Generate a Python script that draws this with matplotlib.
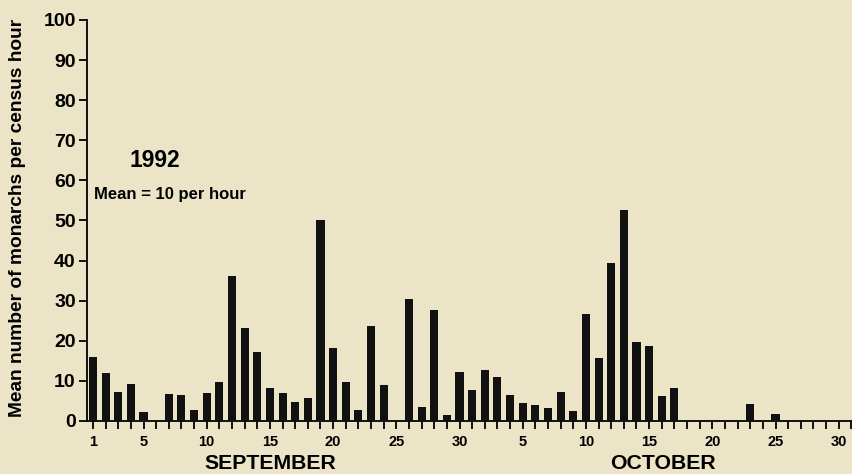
import matplotlib
matplotlib.use('Agg')
import matplotlib.pyplot as plt
import matplotlib.transforms as mtransforms

plt.rcParams['font.family'] = ['Liberation Sans', 'DejaVu Sans']
plt.rcParams['font.weight'] = 'bold'

# September 1..30 then October 1..31
sept_counts = [16, 12, 7.3, 9.3, 2.2, 0, 6.8, 6.5, 2.7, 6.9,
               9.8, 36.2, 23.2, 17.3, 8.2, 7, 4.6, 5.8, 50.2, 18.1,
               9.8, 2.6, 23.6, 8.9, 0, 30.3, 3.4, 27.6, 1.4, 12.2]
oct_counts = [7.7, 12.8, 10.9, 6.5, 4.4, 4, 3.3, 7.3, 2.5, 26.7,
              15.6, 39.3, 52.7, 19.8, 18.7, 6.3, 8.3, 0, 0, 0,
              0, 0, 4.3, 0, 1.8, 0, 0, 0, 0, 0, 0]
sept_labels = [1, 5, 10, 15, 20, 25, 30]
oct_labels = [5, 10, 15, 20, 25, 30]

counts = sept_counts + oct_counts
days = list(range(1, len(counts) + 1))
tick_pos = [d for d in sept_labels] + [30 + d for d in oct_labels]
tick_text = [str(d) for d in sept_labels] + [str(d) for d in oct_labels]

bg = '#ECE4C7'
fig = plt.figure(figsize=(8.52, 4.74), dpi=100, facecolor=bg)
ax = fig.add_axes([0.102, 0.112, 0.898, 0.846], facecolor=bg)

ax.bar(days, counts, width=0.64, color='#111111', zorder=3)

ax.set_xlim(0.52, 61.05)
ax.set_ylim(0, 100)
ax.set_yticks(range(0, 101, 10))
ax.set_xticks(days, minor=True)
ax.set_xticks(tick_pos)
ax.set_xticklabels(tick_text)
ax.tick_params(axis='x', which='both', direction='out', length=6, width=1.3,
               labelsize=10.5, pad=4)
ax.tick_params(axis='y', direction='out', length=6, width=1.3, labelsize=14, pad=2)

for s in ['top', 'right']:
    ax.spines[s].set_visible(False)
ax.spines['left'].set_linewidth(1.3)
ax.spines['bottom'].set_linewidth(1.3)

ax.set_ylabel('Mean number of monarchs per census hour', fontsize=13.8,
              fontweight='bold')
ax.yaxis.set_label_coords(-0.080, 0.505)

ax.text(3.9, 65, '1992', fontsize=16.5, fontweight='bold', va='center', ha='left')
ax.text(1.05, 56.5, 'Mean = 10 per hour', fontsize=12, fontweight='bold',
        va='center', ha='left')

trans = mtransforms.blended_transform_factory(ax.transData, ax.transAxes)
ax.text(15, -0.105, 'SEPTEMBER', transform=trans, fontsize=15.3,
        fontweight='bold', ha='center', va='center')
ax.text(46.1, -0.105, 'OCTOBER', transform=trans, fontsize=15.3,
        fontweight='bold', ha='center', va='center')

fig.savefig('out.png', dpi=100, facecolor=bg)
